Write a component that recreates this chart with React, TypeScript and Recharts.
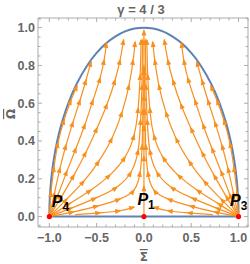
import { ComposedChart, Line, Scatter, XAxis, YAxis, ReferenceArea } from 'recharts';

// Phase portrait, gamma = 4/3 : streamlines in the (Sigma, Omega) half-disc

const xDomain: [number, number] = [-1.12, 1.1];
const yDomain: [number, number] = [-0.055, 1.051];

const xMajor = [-1, -0.5, 0, 0.5, 1];
const xMinor = [-1.1, -0.9, -0.8, -0.7, -0.6, -0.4, -0.3, -0.2, -0.1, 0.1, 0.2, 0.3, 0.4, 0.6, 0.7, 0.8, 0.9, 1.1];
const yMajor = [0, 0.2, 0.4, 0.6, 0.8, 1];
const yMinor = [-0.05, 0.05, 0.1, 0.15, 0.25, 0.3, 0.35, 0.45, 0.5, 0.55, 0.65, 0.7, 0.75, 0.85, 0.9, 0.95, 1.05];

// boundary Sigma^2 + Omega^2 = 1 and the Omega = 0 edge
const boundaryArc = [
  [-1, 0], [-0.999, 0.05], [-0.995, 0.1], [-0.98, 0.2], [-0.954, 0.3], [-0.917, 0.4], [-0.866, 0.5],
  [-0.8, 0.6], [-0.714, 0.7], [-0.6, 0.8], [-0.5, 0.866], [-0.4, 0.917], [-0.3, 0.954], [-0.2, 0.98],
  [-0.1, 0.995], [0, 1], [0.1, 0.995], [0.2, 0.98], [0.3, 0.954], [0.4, 0.917], [0.5, 0.866],
  [0.6, 0.8], [0.714, 0.7], [0.8, 0.6], [0.866, 0.5], [0.917, 0.4], [0.954, 0.3], [0.98, 0.2],
  [0.995, 0.1], [0.999, 0.05], [1, 0],
];
const bottomEdge = [[-1, 0], [1, 0]];

// streamlines leaving P4 (left)
const fanL1 = [[-1, 0], [-0.982, 0.131], [-0.95, 0.263], [-0.908, 0.39], [-0.844, 0.512], [-0.77, 0.617], [-0.707, 0.692]];
const fanL2 = [[-1, 0], [-0.944, 0.128], [-0.887, 0.258], [-0.823, 0.379], [-0.749, 0.501], [-0.675, 0.617], [-0.612, 0.723], [-0.559, 0.819]];
const fanL3 = [[-1, 0], [-0.904, 0.121], [-0.813, 0.242], [-0.717, 0.363], [-0.622, 0.49], [-0.538, 0.617], [-0.463, 0.734], [-0.421, 0.829], [-0.395, 0.919]];
const fanL4 = [[-1, 0], [-0.866, 0.11], [-0.739, 0.221], [-0.612, 0.342], [-0.495, 0.469], [-0.389, 0.596], [-0.305, 0.723], [-0.252, 0.829], [-0.215, 0.935]];
const fanL5 = [[-1, 0], [-0.813, 0.094], [-0.633, 0.189], [-0.474, 0.295], [-0.337, 0.416], [-0.231, 0.554], [-0.157, 0.697], [-0.114, 0.829], [-0.093, 0.924]];
const fanL6 = [[-1, 0], [-0.781, 0.07], [-0.559, 0.141], [-0.358, 0.221], [-0.199, 0.316], [-0.104, 0.432], [-0.061, 0.575], [-0.04, 0.75], [-0.03, 0.935]];
const fanL7 = [[-1, 0], [-0.76, 0.046], [-0.506, 0.099], [-0.284, 0.157], [-0.135, 0.237], [-0.061, 0.353], [-0.035, 0.512], [-0.021, 0.697], [-0.014, 0.935]];
const fanL8 = [[-1, 0], [-0.744, 0.025], [-0.485, 0.057], [-0.252, 0.094], [-0.104, 0.141], [-0.04, 0.237], [-0.019, 0.379], [-0.011, 0.565], [-0.006, 0.776]];
const lowL = [[-0.728, 0.01], [-0.463, 0.02], [-0.252, 0.031], [-0.104, 0.05]];

// streamlines leaving P3 (right)
const fanR1 = [[1, 0], [0.982, 0.131], [0.95, 0.263], [0.908, 0.39], [0.844, 0.512], [0.77, 0.617], [0.707, 0.692]];
const fanR2 = [[1, 0], [0.944, 0.128], [0.887, 0.258], [0.823, 0.379], [0.749, 0.501], [0.675, 0.617], [0.612, 0.723], [0.559, 0.819]];
const fanR3 = [[1, 0], [0.904, 0.121], [0.813, 0.242], [0.717, 0.363], [0.622, 0.49], [0.538, 0.617], [0.463, 0.734], [0.421, 0.829], [0.395, 0.919]];
const fanR4 = [[1, 0], [0.866, 0.11], [0.739, 0.221], [0.612, 0.342], [0.495, 0.469], [0.389, 0.596], [0.305, 0.723], [0.252, 0.829], [0.215, 0.935]];
const fanR5 = [[1, 0], [0.813, 0.094], [0.633, 0.189], [0.474, 0.295], [0.337, 0.416], [0.231, 0.554], [0.157, 0.697], [0.114, 0.829], [0.093, 0.924]];
const fanR6 = [[1, 0], [0.781, 0.07], [0.559, 0.141], [0.358, 0.221], [0.199, 0.316], [0.104, 0.432], [0.061, 0.575], [0.04, 0.75], [0.03, 0.935]];
const fanR7 = [[1, 0], [0.76, 0.046], [0.506, 0.099], [0.284, 0.157], [0.135, 0.237], [0.061, 0.353], [0.035, 0.512], [0.021, 0.697], [0.014, 0.935]];
const fanR8 = [[1, 0], [0.744, 0.025], [0.485, 0.057], [0.252, 0.094], [0.104, 0.141], [0.04, 0.237], [0.019, 0.379], [0.011, 0.565], [0.006, 0.776]];
const lowR = [[0.728, 0.01], [0.463, 0.02], [0.252, 0.031], [0.104, 0.05]];

// out of P1 straight up
const centerLine = [[0, 0], [0, 0.16], [0, 0.32], [0, 0.48], [0, 0.64], [0, 0.8], [0, 0.985]];

const fixedNames = ['P4', 'P1', 'P3'];
const fixedSigma = [-1, 0, 1];
const fixedOmega = [0, 0, 0];

const streams = [
  fanL1, fanL2, fanL3, fanL4, fanL5, fanL6, fanL7, fanL8, lowL,
  fanR1, fanR2, fanR3, fanR4, fanR5, fanR6, fanR7, fanR8, lowR,
  centerLine,
];

const W = 250;
const H = 264;
const PLOT = { left: 38, top: 18, width: 210, height: 209 };
const KX = PLOT.width / (xDomain[1] - xDomain[0]);
const KY = PLOT.height / (yDomain[1] - yDomain[0]);

const ORANGE = '#F8901E';
const BLUE = '#5E81B5';
const FRAME = '#ABABAB';
const TEXT = '#666666';
const FONT = '"Liberation Sans", Arial, sans-serif';

const labelOffset: Record<string, [number, number, string]> = {
  P4: [2.5, -10, '4'],
  P1: [-6.5, -11.5, '1'],
  P3: [-8.5, -11, '3'],
};

const toRows = (pts: number[][]) => pts.map(([s, o]) => ({ s, o }));

const fmt = (v: number) => v.toFixed(1).replace('-', '\u2212');

const arrowDot = (pts: number[][]) => (props: any) => {
  const { cx, cy, index } = props;
  if (!index || cx == null || cy == null) return <g key={`d${index}`} />;
  const a = pts[index - 1];
  const b = pts[Math.min(index + 1, pts.length - 1)];
  const ang = (Math.atan2(-(b[1] - a[1]) * KY, (b[0] - a[0]) * KX) * 180) / Math.PI;
  return (
    <path
      key={`d${index}`}
      d="M1.5,0 L-5,-2.5 L-5,2.5 Z"
      fill={ORANGE}
      transform={`translate(${cx},${cy}) rotate(${ang})`}
    />
  );
};

const XTick = (props: any) => {
  const { x, y, payload } = props;
  const v = payload.value;
  const major = xMajor.includes(v);
  const len = major ? 4 : 2.5;
  return (
    <g>
      <line x1={x} x2={x} y1={y} y2={y - len} stroke={FRAME} />
      <line x1={x} x2={x} y1={PLOT.top} y2={PLOT.top + len} stroke={FRAME} />
      {major && (
        <text x={x} y={y + 15.3} textAnchor="middle" fontSize={12.5} fontWeight="bold" fill={TEXT} fontFamily={FONT}>
          {fmt(v)}
        </text>
      )}
    </g>
  );
};

const YTick = (props: any) => {
  const { x, y, payload } = props;
  const v = payload.value;
  const major = yMajor.includes(v);
  const len = major ? 4 : 2.5;
  const right = PLOT.left + PLOT.width;
  return (
    <g>
      <line x1={x} x2={x + len} y1={y} y2={y} stroke={FRAME} />
      <line x1={right} x2={right - len} y1={y} y2={y} stroke={FRAME} />
      {major && (
        <text x={x - 3} y={y + 4.3} textAnchor="end" fontSize={12.5} fontWeight="bold" fill={TEXT} fontFamily={FONT}>
          {fmt(v)}
        </text>
      )}
    </g>
  );
};

const FixedPoint = (props: any) => {
  const { cx, cy, payload } = props;
  const [dx, dy, sub] = labelOffset[payload.name];
  return (
    <g>
      <circle cx={cx} cy={cy} r={2.6} fill="#FF0000" />
      <text x={cx + dx} y={cy + dy} fontSize={16} fontWeight="bold" fontStyle="italic" fill="#000" fontFamily={FONT}>
        P
        <tspan fontSize={12} fontStyle="normal" dy={4}>
          {sub}
        </tspan>
      </text>
    </g>
  );
};

export default function App() {
  const fixedRows = fixedNames.map((name, i) => ({ name, s: fixedSigma[i], o: fixedOmega[i] }));

  return (
    <div style={{ position: 'absolute', left: 0, top: 0, width: W, height: H, background: '#fff' }}>
      <ComposedChart width={W} height={H} margin={{ top: PLOT.top, right: W - PLOT.left - PLOT.width, bottom: 0, left: 0 }}>
        <XAxis
          type="number"
          dataKey="s"
          domain={xDomain}
          allowDataOverflow
          ticks={[...xMajor, ...xMinor]}
          interval={0}
          tick={<XTick />}
          tickLine={false}
          axisLine={false}
          tickSize={0}
          tickMargin={0}
          height={H - PLOT.top - PLOT.height}
        />
        <YAxis
          type="number"
          dataKey="o"
          domain={yDomain}
          allowDataOverflow
          ticks={[...yMajor, ...yMinor]}
          interval={0}
          tick={<YTick />}
          tickLine={false}
          axisLine={false}
          tickSize={0}
          tickMargin={0}
          width={PLOT.left}
        />
        <ReferenceArea
          x1={xDomain[0]}
          x2={xDomain[1]}
          y1={yDomain[0]}
          y2={yDomain[1]}
          fill="none"
          stroke={FRAME}
          strokeWidth={1}
        />
        <Line
          data={toRows(boundaryArc)}
          dataKey="o"
          type="natural"
          stroke={BLUE}
          strokeWidth={2}
          dot={false}
          activeDot={false}
          isAnimationActive={false}
        />
        <Line
          data={toRows(bottomEdge)}
          dataKey="o"
          type="linear"
          stroke={BLUE}
          strokeWidth={2}
          dot={false}
          activeDot={false}
          isAnimationActive={false}
        />
        {streams.map((pts, i) => (
          <Line
            key={`st${i}`}
            data={toRows(pts)}
            dataKey="o"
            type="natural"
            stroke={ORANGE}
            strokeWidth={1.2}
            dot={arrowDot(pts)}
            activeDot={false}
            isAnimationActive={false}
          />
        ))}
        <Scatter data={fixedRows} dataKey="o" shape={<FixedPoint />} isAnimationActive={false} />
      </ComposedChart>
      <svg width={W} height={H} style={{ position: 'absolute', left: 0, top: 0, pointerEvents: 'none' }}>
        <text x={141} y={13.5} textAnchor="middle" fontSize={13} fontWeight="bold" fill={TEXT} fontFamily={FONT}>
          γ = 4 / 3
        </text>
        <text
          x={15}
          y={114}
          textAnchor="middle"
          fontSize={12}
          fontWeight="bold"
          fill={TEXT}
          fontFamily='"DejaVu Sans", sans-serif'
          transform="rotate(-90, 15, 114)"
          style={{ textDecoration: 'overline' }}
        >
          Ω
        </text>
        <text
          x={143.8}
          y={261}
          textAnchor="middle"
          fontSize={12}
          fontWeight="bold"
          fill={TEXT}
          fontFamily='"DejaVu Sans", sans-serif'
          style={{ textDecoration: 'overline' }}
        >
          Σ
        </text>
      </svg>
    </div>
  );
}
